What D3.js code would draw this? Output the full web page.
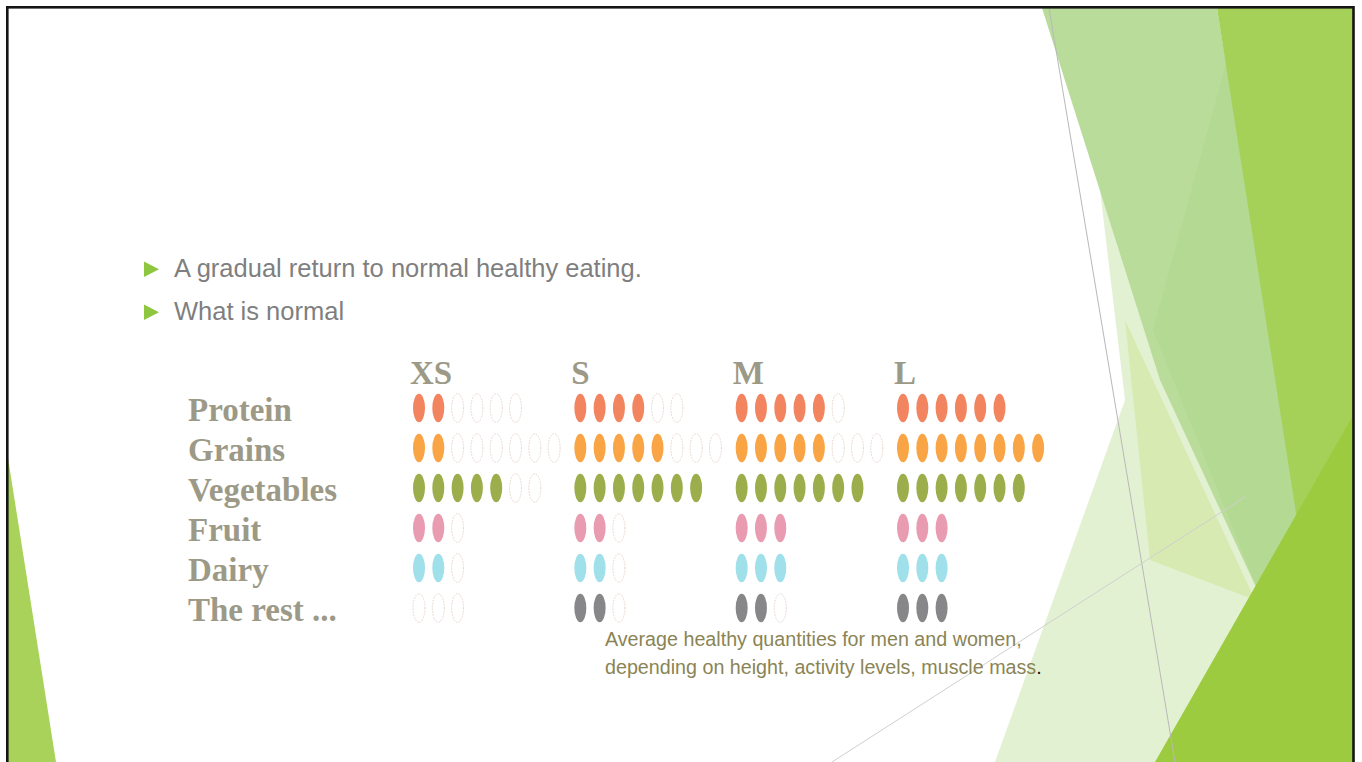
<!DOCTYPE html>
<html>
<head>
<meta charset="utf-8">
<script src="https://cdn.jsdelivr.net/npm/d3@7"></script>
<style>
  html, body { margin: 0; padding: 0; background: #fff; }
  svg { display: block; }
</style>
</head>
<body>
<svg id="chart" width="1362" height="762"></svg>
<script>
// ---------------- DATA ----------------
const sizes = ["XS", "S", "M", "L"];
const groups = ["Protein", "Grains", "Vegetables", "Fruit", "Dairy", "The rest ..."];
const maxPortions = [6, 8, 7, 3, 3, 3];
const portionsXS = [2, 2, 5, 2, 2, 0];
const portionsS  = [4, 5, 7, 2, 2, 2];
const portionsM  = [5, 5, 7, 3, 3, 2];
const portionsL  = [6, 8, 7, 3, 3, 3];
const groupColors = ["#f2845f", "#f9a545", "#9bae4b", "#e99bb2", "#9fe0ea", "#87878a"];
const bullets = ["A gradual return to normal healthy eating.", "What is normal"];
const captionLine1 = "Average healthy quantities for men and women,";
const captionLine2 = "depending on height, activity levels, muscle mass";

const portionsBySize = { XS: portionsXS, S: portionsS, M: portionsM, L: portionsL };

// ---------------- SETUP ----------------
const svg = d3.select("#chart");

// slide decoration (theme facets)
const deco = svg.append("g");
const facets = [
  { pts: [[1100,190],[1262,600],[1250,762],[995,762],[1125,400]], fill: "#e3f1d3" },
  { pts: [[1125,320],[1255,600],[1150,560]], fill: "#d7eab2" },
  { pts: [[1042,8],[1217,8],[1300,513],[1262,600],[1160,380]], fill: "#b9dc9a" },
  { pts: [[1227,60],[1300,513],[1262,600],[1153,330]], fill: "#b4d993" },
  { pts: [[1217,8],[1356,8],[1356,762],[1335,762]], fill: "#a5d158" },
  { pts: [[1155,762],[1356,410],[1356,762]], fill: "#9dcb40" },
  { pts: [[8,458],[56,762],[8,762]], fill: "#a9d25a" }
];
deco.selectAll("polygon").data(facets).join("polygon")
  .attr("points", d => d.pts.map(p => p.join(",")).join(" "))
  .attr("fill", d => d.fill);
const thinLines = [
  { a: [1049, 8], b: [1175, 762], c: "#b8b8b8" },
  { a: [832, 762], b: [1245, 497], c: "#cfcfcf" }
];
deco.selectAll("line").data(thinLines).join("line")
  .attr("x1", d => d.a[0]).attr("y1", d => d.a[1])
  .attr("x2", d => d.b[0]).attr("y2", d => d.b[1])
  .attr("stroke", d => d.c).attr("stroke-width", 1);

// white gutter to the right of the slide and border
svg.append("rect").attr("x", 1354).attr("y", 0).attr("width", 8).attr("height", 762).attr("fill", "#fff");
svg.append("rect").attr("x", 7.3).attr("y", 7.3).attr("width", 1346.2).attr("height", 800)
  .attr("fill", "none").attr("stroke", "#151515").attr("stroke-width", 2.6);

// ---------------- BULLETS ----------------
const bulletY = d3.scalePoint().domain(bullets).range([277, 320]);
const bg = svg.append("g");
bg.selectAll("path").data(bullets).join("path")
  .attr("d", d => { const y = bulletY(d); return `M144,${y-15.5}L144,${y}L159,${y-7.75}Z`; })
  .attr("fill", "#8fc63f");
bg.selectAll("text").data(bullets).join("text")
  .attr("x", 174).attr("y", d => bulletY(d))
  .attr("font-family", "'Liberation Sans', Arial, sans-serif")
  .attr("font-size", 25.5).attr("fill", "#7f7f7f")
  .text(d => d);

// ---------------- PORTION CHART ----------------
const serif = "'Liberation Serif', 'Times New Roman', serif";
const labelColor = "#9c9a87";
const x = d3.scalePoint().domain(sizes).range([419, 903]);
const y = d3.scalePoint().domain(groups).range([421, 621]);
const step = d3.scaleLinear().domain([0, 1]).range([0, 19.3]);

const chart = svg.append("g");
chart.selectAll("text.hdr").data(sizes).join("text").attr("class", "hdr")
  .attr("x", d => x(d) - 9).attr("y", 384)
  .attr("font-family", serif).attr("font-weight", "bold").attr("font-size", 33)
  .attr("fill", labelColor).text(d => d);

chart.selectAll("text.row").data(groups).join("text").attr("class", "row")
  .attr("x", 188).attr("y", d => y(d))
  .attr("font-family", serif).attr("font-weight", "bold").attr("font-size", 33)
  .attr("fill", labelColor).text(d => d);

const dots = [];
sizes.forEach(s => {
  groups.forEach((g, gi) => {
    for (let k = 0; k < maxPortions[gi]; k++) {
      dots.push({ size: s, group: g, gi: gi, k: k, filled: k < portionsBySize[s][gi] });
    }
  });
});

chart.selectAll("ellipse").data(dots).join("ellipse")
  .attr("cx", d => x(d.size) + step(d.k))
  .attr("cy", d => y(d.group) - 13)
  .attr("rx", 6).attr("ry", 14.3)
  .attr("fill", d => d.filled ? groupColors[d.gi] : "#ffffff")
  .attr("stroke", d => d.filled ? "none" : "#e6d3ca")
  .attr("stroke-width", 1)
  .attr("stroke-dasharray", d => d.filled ? null : "1.6,1.2");

// ---------------- CAPTION ----------------
const cap = svg.append("g")
  .attr("font-family", "'Liberation Sans', Arial, sans-serif")
  .attr("font-size", 19.7).attr("fill", "#8a8455");
cap.append("text").attr("x", 605).attr("y", 646).text(captionLine1);
const t2 = cap.append("text").attr("x", 605).attr("y", 674);
t2.append("tspan").text(captionLine2);
t2.append("tspan").attr("fill", "#111").text(".");
</script>
</body>
</html>
